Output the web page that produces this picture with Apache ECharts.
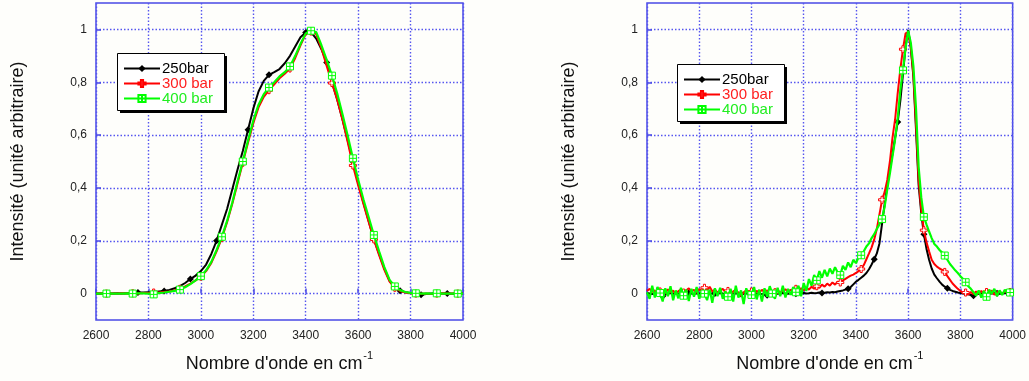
<!DOCTYPE html>
<html>
<head>
<meta charset="utf-8">
<script src="https://cdn.jsdelivr.net/npm/echarts@6/dist/echarts.min.js"></script>
<style>
html,body{margin:0;padding:0;background:#fefefb;}
#chart{width:1029px;height:381px;}
</style>
</head>
<body>
<div id="chart"></div>
<script>
// ---------- DATA ----------
const seriesNames = ['250bar', '300 bar', '400 bar'];
const xTicks = [2600, 2800, 3000, 3200, 3400, 3600, 3800, 4000];
const yTicks = [0, 0.2, 0.4, 0.6, 0.8, 1];

// Left panel (step 20 cm-1)
const waveLeft = [2600,2620,2640,2660,2680,2700,2720,2740,2760,2780,2800,2820,2840,2860,2880,2900,2920,2940,2960,2980,
3000,3020,3040,3060,3080,3100,3120,3140,3160,3180,3200,3220,3240,3260,3280,3300,3320,3340,3360,3380,
3400,3420,3440,3460,3480,3500,3520,3540,3560,3580,3600,3620,3640,3660,3680,3700,3720,3740,3760,3780,
3800,3820,3840,3860,3880,3900,3920,3940,3960,3980,4000];
const left250 = [0.000,0.000,0.001,0.000,0.001,0.000,0.001,0.002,0.004,0.004,0.005,0.006,0.008,0.010,0.014,0.020,0.028,0.040,0.055,0.068,
0.085,0.110,0.150,0.200,0.260,0.320,0.395,0.470,0.540,0.620,0.700,0.765,0.805,0.828,0.838,0.850,0.872,0.900,0.935,0.970,
0.988,0.990,0.965,0.925,0.875,0.800,0.735,0.660,0.580,0.500,0.420,0.345,0.275,0.205,0.150,0.095,0.048,0.024,0.011,0.005,
0.002,0.000,-0.004,-0.002,0.000,-0.001,0.000,0.000,-0.001,0.000,0.000];
const left300 = [0.000,0.000,0.000,0.000,0.000,0.001,0.000,0.001,0.000,0.002,0.002,0.004,0.004,0.006,0.008,0.012,0.018,0.027,0.038,0.050,
0.064,0.085,0.116,0.160,0.210,0.270,0.340,0.418,0.495,0.572,0.645,0.705,0.745,0.770,0.792,0.815,0.832,0.852,0.892,0.940,
0.982,0.992,0.982,0.928,0.862,0.797,0.735,0.660,0.575,0.485,0.410,0.340,0.272,0.205,0.145,0.090,0.045,0.022,0.010,0.004,
0.001,0.000,-0.001,0.000,-0.002,0.000,0.001,0.000,0.000,0.000,0.000];
const left400 = [0.000,0.000,0.000,0.000,0.000,0.000,0.001,0.000,0.001,0.001,0.000,-0.003,0.002,0.004,0.007,0.010,0.015,0.024,0.036,0.050,
0.066,0.088,0.120,0.165,0.215,0.275,0.345,0.425,0.500,0.580,0.655,0.715,0.755,0.780,0.800,0.822,0.838,0.860,0.900,0.945,
0.985,0.995,0.990,0.940,0.885,0.825,0.758,0.680,0.598,0.512,0.432,0.357,0.290,0.222,0.160,0.100,0.052,0.027,0.013,0.006,
0.003,0.001,0.000,0.001,0.000,0.001,0.000,0.000,0.000,0.000,0.000];
const marks250Left = [2760,2860,2960,3060,3180,3260,3400,3480,3580,3660,3760,3840,3940];
const marks300Left = [2640,2740,2820,2920,3000,3080,3160,3260,3340,3420,3500,3580,3660,3740,3820,3900,3980];
const marks400Left = [2640,2740,2820,2920,3000,3080,3160,3260,3340,3420,3500,3580,3660,3740,3820,3900,3980];

// Right panel (step 10 cm-1)
const waveRight = [2600,2610,2620,2630,2640,2650,2660,2670,2680,2690,2700,2710,2720,2730,2740,2750,2760,2770,2780,2790,
2800,2810,2820,2830,2840,2850,2860,2870,2880,2890,2900,2910,2920,2930,2940,2950,2960,2970,2980,2990,
3000,3010,3020,3030,3040,3050,3060,3070,3080,3090,3100,3110,3120,3130,3140,3150,3160,3170,3180,3190,
3200,3210,3220,3230,3240,3250,3260,3270,3280,3290,3300,3310,3320,3330,3340,3350,3360,3370,3380,3390,
3400,3410,3420,3430,3440,3450,3460,3470,3480,3490,3500,3510,3520,3530,3540,3550,3560,3570,3580,3590,
3600,3610,3620,3630,3640,3650,3660,3670,3680,3690,3700,3710,3720,3730,3740,3750,3760,3770,3780,3790,
3800,3810,3820,3830,3840,3850,3860,3870,3880,3890,3900,3910,3920,3930,3940,3950,3960,3970,3980,3990,4000];
const right250 = [0.002,0.000,-0.002,0.001,-0.003,-0.006,-0.010,-0.004,0.000,0.002,-0.001,0.001,0.000,-0.002,0.001,0.003,0.002,0.000,-0.002,0.001,
0.000,-0.001,0.002,0.000,-0.002,0.001,0.000,-0.001,0.002,0.000,-0.001,0.001,-0.002,0.000,0.001,-0.001,-0.002,0.000,0.001,-0.002,
0.000,0.001,-0.001,0.000,-0.002,-0.003,-0.006,-0.002,0.000,0.001,-0.001,0.000,0.002,0.000,-0.001,0.001,0.000,-0.001,0.001,0.000,
0.002,0.000,0.001,0.003,0.001,0.002,0.004,0.002,0.003,0.005,0.004,0.006,0.005,0.008,0.010,0.012,0.015,0.018,0.025,0.035,
0.045,0.052,0.060,0.068,0.078,0.092,0.110,0.130,0.152,0.190,0.265,0.340,0.410,0.470,0.530,0.590,0.650,0.730,0.830,0.935,
0.998,0.930,0.820,0.620,0.410,0.305,0.225,0.170,0.128,0.095,0.072,0.058,0.045,0.034,0.026,0.020,0.014,0.010,0.007,0.004,
0.002,0.000,-0.001,-0.003,-0.005,-0.008,-0.004,-0.001,0.000,0.002,0.000,-0.001,0.001,0.000,0.001,-0.001,0.000,0.002,0.000,-0.001,0.000];
const right300 = [0.010,0.018,0.006,0.012,-0.004,0.008,0.014,0.002,0.016,0.005,0.011,-0.002,0.009,0.015,0.004,0.012,0.020,0.008,0.014,0.003,
0.017,0.010,0.022,0.012,0.026,0.008,0.015,0.004,0.012,0.018,0.006,0.010,-0.002,0.008,0.014,0.003,-0.010,0.005,0.012,0.002,
0.008,-0.004,0.010,0.004,0.014,0.006,0.012,0.002,0.010,0.005,0.013,0.004,0.011,0.016,0.007,0.014,0.009,0.018,0.010,0.020,
0.012,0.022,0.015,0.026,0.018,0.028,0.022,0.034,0.026,0.038,0.030,0.042,0.034,0.045,0.042,0.050,0.056,0.062,0.068,0.072,
0.078,0.085,0.093,0.108,0.130,0.152,0.175,0.205,0.245,0.300,0.355,0.385,0.430,0.500,0.590,0.660,0.760,0.850,0.925,0.985,
0.990,0.935,0.830,0.640,0.430,0.320,0.240,0.195,0.160,0.128,0.112,0.102,0.095,0.090,0.082,0.066,0.052,0.038,0.028,0.018,
0.010,0.002,0.004,-0.004,0.006,-0.002,0.008,0.000,0.010,-0.003,0.006,0.000,0.012,-0.004,0.004,0.008,-0.002,0.010,0.002,0.006,0.000];
const right400 = [0.005,-0.020,0.030,-0.015,0.025,0.002,-0.030,0.020,-0.010,0.028,-0.025,0.012,-0.018,0.022,-0.008,0.015,-0.028,0.018,-0.012,0.025,
-0.020,0.010,0.000,-0.025,0.015,-0.035,0.020,-0.010,0.022,-0.020,0.008,-0.012,0.018,-0.030,0.030,-0.015,0.012,-0.040,0.020,-0.008,
-0.005,0.025,-0.022,0.015,-0.030,0.020,-0.012,0.028,0.000,-0.020,0.022,-0.010,0.030,-0.015,0.018,-0.005,0.025,0.005,0.030,-0.010,
0.040,0.010,0.055,0.030,0.070,0.050,0.085,0.060,0.090,0.065,0.095,0.075,0.100,0.080,0.070,0.105,0.090,0.118,0.100,0.128,
0.115,0.138,0.145,0.160,0.178,0.190,0.210,0.225,0.245,0.262,0.282,0.330,0.395,0.455,0.520,0.585,0.665,0.770,0.845,0.930,
0.995,0.950,0.860,0.700,0.480,0.365,0.290,0.262,0.235,0.210,0.188,0.178,0.165,0.155,0.144,0.128,0.112,0.100,0.088,0.078,
0.066,0.055,0.043,0.028,0.018,0.005,-0.008,0.012,-0.015,0.010,-0.012,0.015,0.000,0.018,-0.010,0.012,-0.005,0.015,0.002,0.004,0.008];
const marks250Right = [2660,2760,2860,2960,3060,3170,3270,3370,3470,3560,3660,3750,3850,3940];
const marks300Right = [2650,2740,2820,2910,3000,3090,3170,3250,3340,3420,3500,3580,3660,3740,3820,3900,3990];
const marks400Right = [2650,2740,2820,2910,3000,3080,3170,3250,3340,3420,3500,3580,3660,3740,3820,3900,3990];

// ---------- STYLE ----------
const FONT = 'Liberation Sans, Arial, sans-serif';
const BLUE = '#4a4ae6';
const GRIDC = '#5656f0';
const COLORS = ['#000000', '#ff0000', '#00ff00'];
const TEXTCOLORS = ['#000000', '#ff2020', '#22ee22'];
const SYMBOLS = [
  'diamond',
  'path://M3.5,0H6.5V3.5H10V6.5H6.5V10H3.5V6.5H0V3.5H3.5Z',
  'path://M0,0H10V10H0Z M5,0V10 M0,5H10'
];
const SYM_STYLE = [
  {color: '#000000'},
  {color: '#ffffff', borderColor: '#ff0000', borderWidth: 1},
  {color: '#ffffff', borderColor: '#00ff00', borderWidth: 1}
];

function buildData(xs, ys, marks) {
  return xs.map((x, i) => marks.indexOf(x) >= 0 ? {value: [x, ys[i]]} : {value: [x, ys[i]], symbol: 'none'});
}
function mkSeries(k, gi, xs, ys, marks) {
  return {
    name: seriesNames[k], type: 'line', xAxisIndex: gi, yAxisIndex: gi,
    data: buildData(xs, ys, marks),
    symbol: SYMBOLS[k], symbolSize: 7, showSymbol: true,
    itemStyle: SYM_STYLE[k],
    lineStyle: {color: COLORS[k], width: k === 2 ? 2.2 : 2},
    color: COLORS[k],
    z: 2 + k, animation: false, silent: true
  };
}
function xAx(gi) {
  return {
    gridIndex: gi, type: 'value', min: 2600, max: 4000, interval: 200,
    axisLine: {show: false},
    axisTick: {show: true, inside: true, length: 5, lineStyle: {color: BLUE, width: 1.5}},
    axisLabel: {fontSize: 12, color: '#222', margin: 10, fontFamily: FONT,
      customValues: xTicks, formatter: v => String(v)},
    splitLine: {show: true, lineStyle: {color: GRIDC, type: [1.5, 2], width: 1.4}},
    name: '{a|Nombre d\'onde en cm}{s|-1}', nameLocation: 'middle', nameGap: 30,
    nameTextStyle: {rich: {
      a: {fontSize: 18, lineHeight: 28, color: '#111', fontFamily: FONT},
      s: {fontSize: 11, lineHeight: 11, color: '#111', fontFamily: FONT, verticalAlign: 'top', padding: [0, 0, 0, 1]}
    }}
  };
}
function yAx(gi) {
  return {
    gridIndex: gi, type: 'value', min: -0.1, max: 1.1, splitNumber: 6,
    axisLine: {show: false},
    axisTick: {show: true, inside: true, length: 5, customValues: yTicks, lineStyle: {color: BLUE, width: 1.5}},
    axisLabel: {fontSize: 12, color: '#222', margin: 9, fontFamily: FONT, customValues: yTicks,
      formatter: v => {
        const r = Math.round(v * 10);
        if (r < 0 || r > 10 || r % 2) return '';
        return String(r / 10).replace('.', ',');
      }},
    splitLine: {show: true, lineStyle: {color: GRIDC, type: [1.5, 2], width: 1.4}},
    name: 'Intensité (unité arbitraire)', nameLocation: 'middle', nameGap: 69,
    nameTextStyle: {fontSize: 18, color: '#111', fontFamily: FONT}
  };
}
function legendAt(left, top) {
  return {
    orient: 'vertical', left: left, top: top, z: 30,
    padding: 0, itemWidth: 36, itemHeight: 9, itemGap: 0,
    textStyle: {fontSize: 15, fontFamily: FONT, lineHeight: 15, padding: [0, 0, 0, -3]},
    selectedMode: false,
    data: seriesNames.map((n, k) => ({name: n, textStyle: {color: TEXTCOLORS[k]}}))
  };
}
function legendBox(x, y) {
  return [
    {type: 'rect', left: x + 3, top: y + 3, z: 20, silent: true, shape: {width: 107, height: 57}, style: {fill: '#000'}},
    {type: 'rect', left: x, top: y, z: 21, silent: true, shape: {width: 107, height: 57}, style: {fill: '#fff', stroke: '#000', lineWidth: 1}}
  ];
}

const chart = echarts.init(document.getElementById('chart'), null, {renderer: 'canvas'});
chart.setOption({
  backgroundColor: '#fefefb',
  animation: false,
  grid: [
    {left: 96, top: 3, width: 367, height: 317, show: true, borderColor: BLUE, borderWidth: 1.5, backgroundColor: 'transparent'},
    {left: 647, top: 3, width: 366, height: 317, show: true, borderColor: BLUE, borderWidth: 1.5, backgroundColor: 'transparent'}
  ],
  graphic: legendBox(117, 53).concat(legendBox(677, 64)),
  xAxis: [xAx(0), xAx(1)],
  yAxis: [yAx(0), yAx(1)],
  legend: [legendAt(123, 61), legendAt(683, 72)],
  series: [
    mkSeries(0, 0, waveLeft, left250, marks250Left),
    mkSeries(1, 0, waveLeft, left300, marks300Left),
    mkSeries(2, 0, waveLeft, left400, marks400Left),
    mkSeries(0, 1, waveRight, right250, marks250Right),
    mkSeries(1, 1, waveRight, right300, marks300Right),
    mkSeries(2, 1, waveRight, right400, marks400Right)
  ]
});
</script>
</body>
</html>
